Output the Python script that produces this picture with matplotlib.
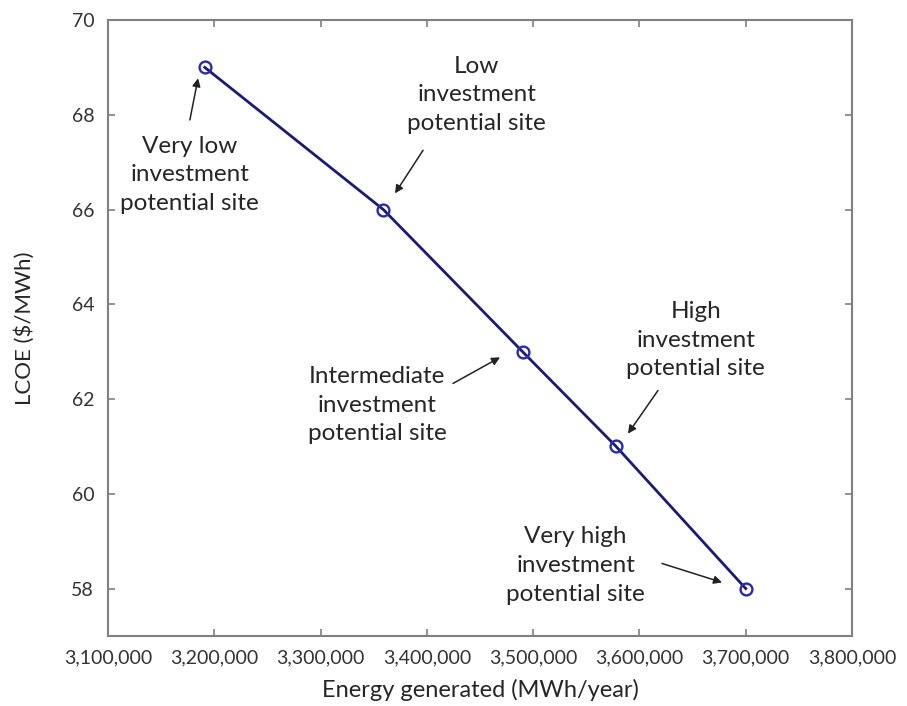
import matplotlib
matplotlib.use("Agg")
import matplotlib.pyplot as plt
from matplotlib.ticker import FuncFormatter

plt.rcParams['font.family'] = ['Lato', 'DejaVu Sans']

# data
energy = [3191000, 3359000, 3490000, 3578000, 3700000]
lcoe = [69, 66, 63, 61, 58]
site_labels = [
    "Very low\ninvestment\npotential site",
    "Low\ninvestment\npotential site",
    "Intermediate\ninvestment\npotential site",
    "High\ninvestment\npotential site",
    "Very high\ninvestment\npotential site",
]

# label placement: (text centre, arrow tail, arrow head)
label_layout = [
    ((3177000, 66.73), (3177000, 67.89), (3184700, 68.77)),
    ((3447000, 68.42), (3396400, 67.25), (3370000, 66.34)),
    ((3353000, 61.87), (3424600, 62.33), (3468800, 62.88)),
    ((3653000, 63.24), (3617400, 62.18), (3589200, 61.27)),
    ((3540000, 58.49), (3621200, 58.53), (3677700, 58.13)),
]

fig = plt.figure(figsize=(9.07, 7.06), dpi=100)
ax = fig.add_axes([0.1191, 0.0992, 0.8203, 0.8725])

ax.plot(energy, lcoe, color='#1a1a78', linewidth=2.0, marker='o',
        markersize=8.5, markerfacecolor='none', markeredgecolor='#2a2aae',
        markeredgewidth=1.7, zorder=3)

for lab, (txt, tail, head) in zip(site_labels, label_layout):
    ax.text(txt[0], txt[1], lab, ha='center', va='center', fontsize=17.5,
            color='#262626', linespacing=1.45)
    ax.annotate('', xy=head, xytext=tail,
                arrowprops=dict(arrowstyle='-|>', color='#222222', lw=1.1,
                                mutation_scale=12, shrinkA=0, shrinkB=0))

ax.set_xlim(3100000, 3800000)
ax.set_ylim(57, 70)
ax.set_xticks(range(3100000, 3800001, 100000))
ax.set_yticks(range(58, 71, 2))
ax.xaxis.set_major_formatter(FuncFormatter(lambda v, p: f"{int(v):,}"))

for s in ax.spines.values():
    s.set_color('#808080')
    s.set_linewidth(1.5)
ax.tick_params(direction='in', length=5, width=1.2, color='#808080',
               top=True, right=True, labelsize=14, labelcolor='#333333', pad=10)

ax.set_xlabel("Energy generated (MWh/year)", fontsize=17, color='#262626', labelpad=9)
ax.set_ylabel("LCOE ($/MWh)", fontsize=16, color='#262626', labelpad=26)

plt.savefig('out.png', dpi=100)
